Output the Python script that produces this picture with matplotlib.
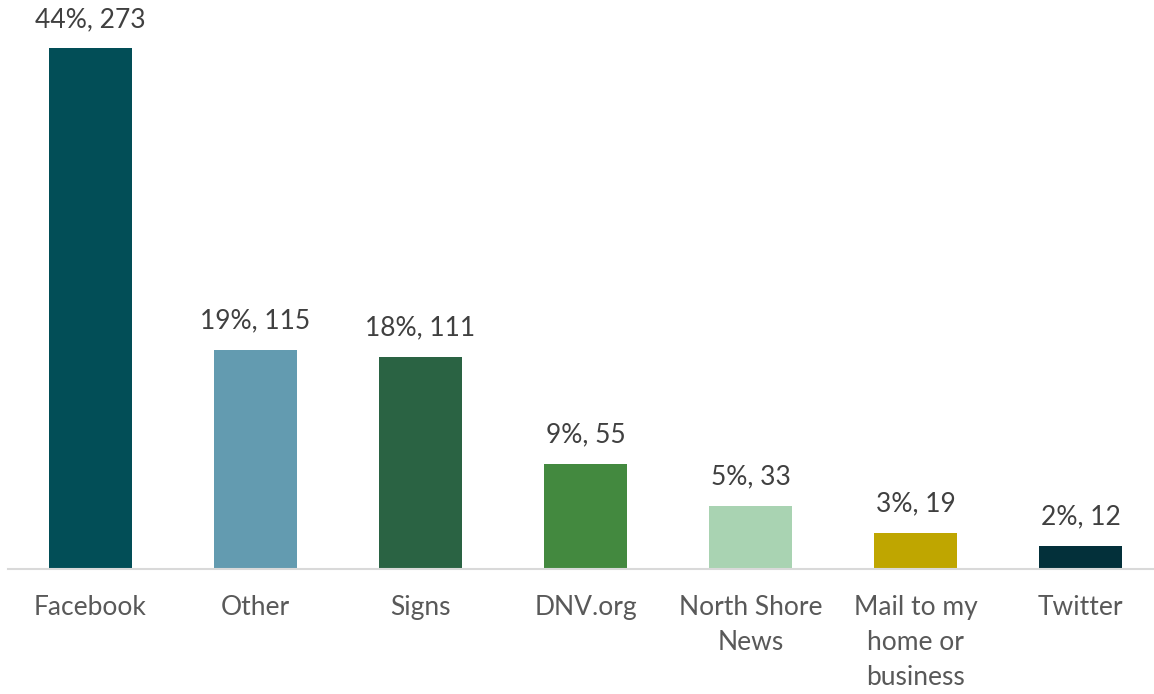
import matplotlib.pyplot as plt

categories = ["Facebook", "Other", "Signs", "DNV.org", "North Shore\nNews",
              "Mail to my\nhome or\nbusiness", "Twitter"]
counts = [273, 115, 111, 55, 33, 19, 12]
percents = [44, 19, 18, 9, 5, 3, 2]
colors = ["#024E57", "#639BB0", "#2A6343", "#43893F", "#A9D3B2", "#BFA600", "#03303A"]

plt.rcParams['font.family'] = ['Lato', 'DejaVu Sans']

fig = plt.figure(figsize=(11.54, 6.94), dpi=100)
ax = fig.add_axes([8 / 1154, 125 / 694, 1155 / 1154, 572 / 694])

x = range(len(categories))
bars = ax.bar(x, counts, width=0.5, color=colors)

for i, (c, p) in enumerate(zip(counts, percents)):
    ax.annotate("{}%, {}".format(p, c), (i, c), xytext=(0, 12), textcoords="offset points",
                ha="center", va="bottom", fontsize=19, color="#404040")

ax.set_xlim(-0.5, 6.5)
ax.set_ylim(0, 300)
ax.set_xticks(list(x))
ax.set_xticklabels(categories, fontsize=19, color="#595959", linespacing=1.48, va="top")
ax.tick_params(axis="x", length=0, pad=19)
ax.set_yticks([])
for s in ["top", "right", "left"]:
    ax.spines[s].set_visible(False)
ax.spines["bottom"].set_color("#D9D9D9")
ax.spines["bottom"].set_linewidth(1.5)

fig.savefig("out.png", dpi=100)
